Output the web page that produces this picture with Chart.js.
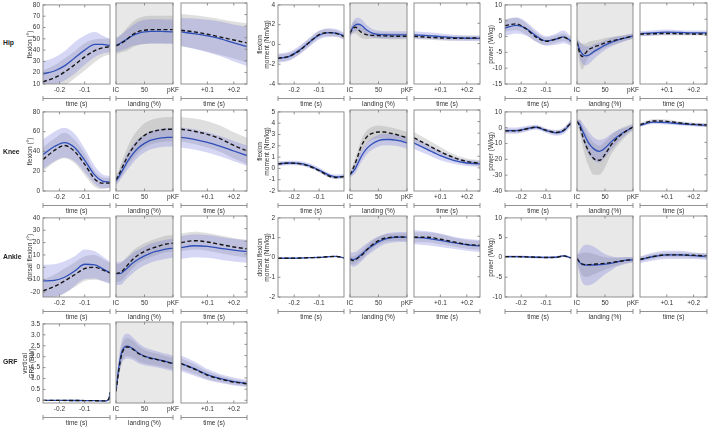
<!DOCTYPE html>
<html><head><meta charset="utf-8">
<script src="https://cdn.jsdelivr.net/npm/chart.js@4.4.0/dist/chart.umd.min.js"></script>
<style>
html,body{margin:0;padding:0;background:#fff;}
#wrap{position:relative;width:711px;height:429px;overflow:hidden;font-family:"Liberation Sans",Arial,sans-serif;}
#wrap canvas{position:absolute;}
.rl{position:absolute;font-weight:bold;font-size:6.8px;color:#222;line-height:10px;}
</style></head><body><div id="wrap"></div>
<script>
// ---- x sampling of each phase ----
const preX  = [-0.265,-0.22,-0.18,-0.14,-0.10,-0.06,-0.03,0];
const landX = [0,5,10,15,20,30,40,50,60,70,80,90,100];
const postX = [0,0.05,0.10,0.15,0.20,0.25];
const grfPreX = [-0.265,-0.2,-0.15,-0.1,-0.06,-0.04,-0.025,-0.015,-0.008,-0.003,0];

// ---- x tick labels ----
const preTicks = [-0.2,-0.1],  preTickLabels  = ['-0.2','-0.1'];
const landTicks = [0,50,100],  landTickLabels = ['IC','50','pKF'];
const postTicks = [0.1,0.2],   postTickLabels = ['+0.1','+0.2'];
const xTitles = ['time (s)','landing (%)','time (s)'];

// ---- y tick labels ----
const hipFlexTicks  = [10,20,30,40,50,60,70,80];
const hipMomTicks   = [-4,-2,0,2,4];
const hipPowTicks   = [-15,-10,-5,0,5,10];
const kneeFlexTicks = [0,20,40,60,80];
const kneeMomTicks  = [-2,-1,0,1,2,3,4,5];
const kneePowTicks  = [-40,-30,-20,-10,0,10];
const ankleFlexTicks= [-20,-10,0,10,20,30,40];
const ankleMomTicks = [-2,-1,0,1,2];
const anklePowTicks = [-10,-5,0,5,10];
const grfTicks      = [0,0.5,1,1.5,2,2.5,3,3.5];

// ---- series: [pre, landing, post] ; blue = solid group, black = dashed group ----
const hipFlexBlue    = [[19,21.5,26,33,40,45,45,44],[43.5,44.5,46,47.5,49,52,54,55,55.5,55.5,55.5,55.2,55],[55,53.5,51.5,49,45.5,42.5]];
const hipFlexBlueSD  = [[11,12,13,14,13,11,8,6],[6,6.5,7,7.5,8,9,10,10.5,10.5,10.5,10.5,10.5,10.5],[12,13,14,15,16,17]];
const hipFlexBlack   = [[12,15.5,20.5,27,34,39.5,42,43],[43,44,45.5,47,49,53,55.5,56.5,57,57,57,57,57],[56.5,55,53,50.5,48,45.5]];
const hipFlexBlackSD = [[10,11,12,12,12,10,8,7],[7,7.5,8,9,10,11,11.5,12,12,12,12,12,12],[14,14.5,15,15.5,16,17]];

const kneeFlexBlue    = [[37,45,49,44,31,16,10,9],[10,14,19,24,29,37,43,47,50,51.5,52.5,53,53],[53,51,48,44,39.5,35]];
const kneeFlexBlueSD  = [[15,15,15,14,12,9,7,6],[4,5,6,7,8,9,9,9,9,9,9,9,9],[10,10,10,10,10,10]];
const kneeFlexBlack   = [[32,41,46,40,27,12,8,8],[11,16,22,28,34,43,50,55,58,59.5,60.5,61,61],[61,59,56,51.5,45,39.5]];
const kneeFlexBlackSD = [[12,12,13,12,11,8,6,5],[4,5,7,8,9,11,11.5,12,12,12,12,12,12],[12,12.5,13,13,13,13]];

const ankleFlexBlue    = [[-11,-10.5,-8,-3,2.5,2,-1,-4.5],[-5.5,-5.5,-5,-3,-1,3,6,8.5,10.5,12,13,14,14.5],[15,16.5,16,14.5,13,12]];
const ankleFlexBlueSD  = [[13,13,13,12,12,11,10,9],[9,9,9,8.5,8,8,7.5,7.5,7.5,7.5,7.5,7.5,7.5],[9,9,9,9,9,9]];
const ankleFlexBlack   = [[-19,-15.5,-11,-6,-1,0,-2,-4.5],[-5.5,-5,-4,-1.5,1,6,9.5,12,14,15.5,17,18,18.5],[19,20.5,19.5,17.5,15.5,14]];
const ankleFlexBlackSD = [[9,9.5,10,10,10,10,9,8],[7,7,7,7,7,7,6.5,6.5,6.5,6.5,6.5,6.5,6.5],[7,7,7,7,7,7]];

const grfBlue    = [[0,0,-0.005,-0.01,-0.015,-0.02,-0.025,-0.02,0.02,0.12,0.38],[0.4,1.5,2.15,2.38,2.42,2.3,2.1,1.97,1.9,1.84,1.78,1.72,1.65],[1.65,1.42,1.15,0.97,0.84,0.75]];
const grfBlueSD  = [[0.01,0.01,0.01,0.01,0.01,0.015,0.02,0.02,0.03,0.04,0.06],[0.1,0.4,0.5,0.55,0.55,0.5,0.45,0.4,0.38,0.36,0.35,0.35,0.35],[0.35,0.32,0.25,0.2,0.18,0.16]];
const grfBlack   = [[0,0,-0.005,-0.01,-0.015,-0.02,-0.025,-0.02,0.02,0.11,0.36],[0.4,1.35,2.05,2.32,2.38,2.28,2.08,1.96,1.88,1.83,1.77,1.7,1.64],[1.64,1.4,1.12,0.95,0.82,0.74]];
const grfBlackSD = [[0.01,0.01,0.01,0.01,0.01,0.01,0.015,0.015,0.02,0.03,0.04],[0.08,0.3,0.38,0.4,0.4,0.38,0.34,0.3,0.28,0.27,0.26,0.26,0.26],[0.25,0.22,0.18,0.14,0.12,0.1]];

const hipMomBlue    = [[-1.4,-1.2,-0.6,0.2,0.95,1.2,1.15,0.85],[1.0,1.6,1.85,1.9,1.8,1.3,1.0,0.9,0.87,0.85,0.85,0.85,0.85],[0.85,0.78,0.68,0.58,0.52,0.5]];
const hipMomBlueSD  = [[0.45,0.45,0.45,0.45,0.45,0.45,0.4,0.35],[0.4,0.55,0.65,0.65,0.6,0.5,0.4,0.35,0.35,0.35,0.35,0.35,0.35],[0.35,0.32,0.3,0.28,0.27,0.27]];
const hipMomBlack   = [[-1.4,-1.2,-0.65,0.2,1.0,1.2,1.1,0.8],[1.0,1.5,1.6,1.35,1.1,0.85,0.8,0.78,0.75,0.73,0.72,0.72,0.72],[0.72,0.62,0.55,0.52,0.53,0.55]];
const hipMomBlackSD = [[0.35,0.35,0.35,0.35,0.35,0.35,0.3,0.3],[0.35,0.5,0.6,0.6,0.55,0.4,0.3,0.3,0.3,0.3,0.3,0.3,0.3],[0.28,0.26,0.25,0.24,0.24,0.24]];

const hipPowBlue    = [[2.7,3.5,2.5,0.2,-1.4,-0.8,-0.1,-1.4],[-2,-4.5,-5.8,-6.3,-6.2,-5.0,-4.0,-3.0,-2.2,-1.6,-1.1,-0.6,-0.2],[0.5,0.8,1.0,0.9,0.8,0.8]];
const hipPowBlueSD  = [[2.5,2.5,2.2,1.8,1.5,1.8,2.0,1.5],[1,2.5,3,3,2.8,2.3,1.8,1.5,1.3,1.2,1,0.9,0.8],[0.8,0.8,0.8,0.7,0.7,0.7]];
const hipPowBlack   = [[3.5,4.0,2.4,-0.2,-1.5,-0.8,-0.2,-1.5],[-2,-5.5,-6.5,-5.5,-4.5,-3.6,-3.0,-2.3,-1.8,-1.4,-1.0,-0.6,-0.2],[0.4,0.5,0.6,0.5,0.45,0.45]];
const hipPowBlackSD = [[2.0,2.0,1.8,1.5,1.2,1.2,1.2,1.0],[1,3.5,4,3,2.5,2,1.7,1.5,1.3,1.2,1,0.9,0.8],[0.6,0.6,0.6,0.5,0.5,0.5]];

const kneeMomBlue    = [[0.4,0.48,0.45,0.25,-0.15,-0.6,-0.75,-0.7],[-0.6,-0.35,0.0,0.5,1.0,1.7,2.1,2.35,2.45,2.45,2.4,2.3,2.15],[2.15,1.6,1.05,0.65,0.42,0.35]];
const kneeMomBlueSD  = [[0.2,0.2,0.2,0.2,0.2,0.2,0.2,0.2],[0.2,0.3,0.4,0.45,0.5,0.5,0.5,0.5,0.5,0.5,0.5,0.5,0.5],[0.5,0.45,0.4,0.3,0.25,0.25]];
const kneeMomBlack   = [[0.4,0.47,0.42,0.2,-0.2,-0.68,-0.8,-0.72],[-0.6,-0.1,0.5,1.2,1.9,2.7,3.0,3.1,3.1,3.0,2.9,2.75,2.6],[2.6,2.0,1.4,0.9,0.55,0.4]];
const kneeMomBlackSD = [[0.12,0.12,0.12,0.12,0.12,0.12,0.12,0.12],[0.2,0.35,0.45,0.5,0.55,0.55,0.55,0.55,0.5,0.5,0.5,0.5,0.5],[0.5,0.45,0.4,0.3,0.25,0.25]];

const kneePowBlue    = [[-1.8,-1.8,-0.7,0.3,-1.8,-3.2,-2.0,3.0],[3,1,-3,-6.5,-10,-14,-15.5,-13.5,-10,-7,-4.5,-2.5,-0.5],[0.5,2.5,2.2,1.5,1.0,0.5]];
const kneePowBlueSD  = [[2,2,1.8,1.5,1.5,1.8,2,2],[1,3,5,6,7,7,7,6,5,4,3,2,1.5],[1,1.2,1.2,1,1,1]];
const kneePowBlack   = [[-2.0,-2.0,-0.8,0.3,-1.6,-3.0,-1.6,3.2],[3,0,-6,-11,-15,-20,-21,-17.5,-12,-8,-5,-2.5,-0.5],[1.0,3.2,3.0,2.0,1.2,0.8]];
const kneePowBlackSD = [[1.2,1.2,1.2,1.0,1.0,1.2,1.5,1.5],[1,4,6,8,9,10,9,8,6,5,4,3,2],[1,1.2,1.2,1,1,1]];

const ankleMomBlue    = [[-0.04,-0.04,-0.03,-0.01,0.0,0.04,0.05,-0.02],[-0.1,-0.15,-0.12,-0.02,0.1,0.35,0.55,0.72,0.85,0.92,0.95,0.96,0.95],[0.95,0.9,0.8,0.68,0.58,0.52]];
const ankleMomBlueSD  = [[0.03,0.03,0.03,0.03,0.03,0.03,0.03,0.03],[0.3,0.35,0.35,0.35,0.35,0.3,0.3,0.28,0.25,0.25,0.25,0.25,0.25],[0.35,0.35,0.33,0.3,0.3,0.3]];
const ankleMomBlack   = [[-0.04,-0.04,-0.03,-0.01,0.0,0.04,0.05,-0.02],[-0.15,-0.2,-0.15,-0.05,0.05,0.35,0.6,0.78,0.9,0.94,0.96,0.96,0.95],[0.95,0.95,0.85,0.72,0.6,0.55]];
const ankleMomBlackSD = [[0.02,0.02,0.02,0.02,0.02,0.02,0.02,0.02],[0.2,0.2,0.2,0.2,0.2,0.2,0.2,0.18,0.18,0.18,0.18,0.18,0.18],[0.25,0.25,0.25,0.22,0.22,0.22]];

const anklePowBlue    = [[0.2,0.2,0.15,0.05,0,0.05,0.4,-0.1],[-0.5,-1.5,-2,-2.1,-2.1,-2.1,-2,-1.9,-1.7,-1.4,-1.1,-0.9,-0.8],[-0.8,0,0.4,0.4,0.2,0]];
const anklePowBlueSD  = [[0.3,0.3,0.3,0.3,0.3,0.3,0.3,0.3],[1,3,4.5,5,5,4.5,3.5,2.5,1.8,1.2,1,0.8,0.7],[0.8,1,1,1,0.8,0.8]];
const anklePowBlack   = [[0.2,0.2,0.15,0.05,0,0.05,0.4,-0.1],[-0.5,-1.4,-1.9,-2,-2,-1.9,-1.8,-1.7,-1.5,-1.3,-1.1,-0.9,-0.8],[-0.7,0,0.4,0.4,0.3,0.1]];
const anklePowBlackSD = [[0.2,0.2,0.2,0.2,0.2,0.2,0.2,0.2],[1,2,2.8,3,3,2.5,2,1.5,1.2,1,0.8,0.7,0.6],[0.6,0.6,0.6,0.6,0.6,0.6]];

const rowLabels = ['Hip','Knee','Ankle','GRF'];

// ---- layout / style ----
const ROW_TOP = [3,110,216,322], PLOT_H = 81, BOT_H = 25, PAD = 10;
const COL_SUBS = [[[43,110],[116,173],[181,247]],[[278,344],[350,407],[414,480]],[[505,571],[577,633],[640,707]]];
const FAM = "'Liberation Sans', Arial, sans-serif";
const TXT = '#333';
const BLUE = '#2f4fb8', BLUE_BAND = 'rgba(115,115,220,0.29)', GRAY_BAND = 'rgba(135,135,135,0.27)';
const LAND_BG = '#e7e8e7', FRAME = '#858585';

const panels = [
  {r:0,c:0,yr:[10,80],ticks:hipFlexTicks,title:'flexion (°)',axW:17,blue:hipFlexBlue,blueSD:hipFlexBlueSD,black:hipFlexBlack,blackSD:hipFlexBlackSD},
  {r:0,c:1,yr:[-4,4],ticks:hipMomTicks,title:['flexion','moment (Nm/kg)'],axW:22,blue:hipMomBlue,blueSD:hipMomBlueSD,black:hipMomBlack,blackSD:hipMomBlackSD},
  {r:0,c:2,yr:[-15,10],ticks:hipPowTicks,title:'power (W/kg)',axW:18,blue:hipPowBlue,blueSD:hipPowBlueSD,black:hipPowBlack,blackSD:hipPowBlackSD},
  {r:1,c:0,yr:[0,80],ticks:kneeFlexTicks,title:'flexion (°)',axW:17,blue:kneeFlexBlue,blueSD:kneeFlexBlueSD,black:kneeFlexBlack,blackSD:kneeFlexBlackSD},
  {r:1,c:1,yr:[-2,5],ticks:kneeMomTicks,title:['flexion','moment (Nm/kg)'],axW:22,blue:kneeMomBlue,blueSD:kneeMomBlueSD,black:kneeMomBlack,blackSD:kneeMomBlackSD},
  {r:1,c:2,yr:[-40,10],ticks:kneePowTicks,title:'power (W/kg)',axW:18,blue:kneePowBlue,blueSD:kneePowBlueSD,black:kneePowBlack,blackSD:kneePowBlackSD},
  {r:2,c:0,yr:[-24,40],ticks:ankleFlexTicks,title:'dorsal flexion (°)',axW:17,blue:ankleFlexBlue,blueSD:ankleFlexBlueSD,black:ankleFlexBlack,blackSD:ankleFlexBlackSD},
  {r:2,c:1,yr:[-2,2],ticks:ankleMomTicks,title:['dorsal flexion','moment (Nm/kg)'],axW:22,blue:ankleMomBlue,blueSD:ankleMomBlueSD,black:ankleMomBlack,blackSD:ankleMomBlackSD},
  {r:2,c:2,yr:[-10,10],ticks:anklePowTicks,title:'power (W/kg)',axW:18,blue:anklePowBlue,blueSD:anklePowBlueSD,black:anklePowBlack,blackSD:anklePowBlackSD},
  {r:3,c:0,yr:[-0.12,3.5],ticks:grfTicks,title:['vertical','GRF (BW)'],axW:22,preX:grfPreX,blue:grfBlue,blueSD:grfBlueSD,black:grfBlack,blackSD:grfBlackSD}
];

const X_RANGE = [[-0.265,0],[0,100],[0,0.25]];
const X_TICKS = [preTicks,landTicks,postTicks];
const X_LABELS = [preTickLabels,landTickLabels,postTickLabels];

const framePlugin = {
  id:'frame',
  beforeDraw(chart,args,o){
    const a = chart.chartArea, ctx = chart.ctx;
    if(o.bg){ ctx.save(); ctx.fillStyle=o.bg; ctx.fillRect(a.left,a.top,a.right-a.left,a.bottom-a.top); ctx.restore(); }
  },
  afterDraw(chart,args,o){
    const a = chart.chartArea, ctx = chart.ctx;
    ctx.save();
    ctx.strokeStyle = FRAME; ctx.lineWidth = 0.9;
    ctx.strokeRect(a.left,a.top,a.right-a.left,a.bottom-a.top);
    ctx.beginPath();
    const ys = chart.scales.y, xs = chart.scales.x;
    o.yticks.forEach(v=>{
      const py = ys.getPixelForValue(v);
      if(o.first){ ctx.moveTo(a.left,py); ctx.lineTo(a.left+2.5,py); }
      if(o.last){ ctx.moveTo(a.right,py); ctx.lineTo(a.right-2.5,py); }
    });
    o.xticks.forEach(v=>{
      const px = xs.getPixelForValue(v);
      ctx.moveTo(px,a.bottom); ctx.lineTo(px,a.bottom-2.5);
      ctx.moveTo(px,a.top); ctx.lineTo(px,a.top+2.5);
    });
    ctx.stroke();
    const by = a.bottom + 14.5;
    ctx.strokeStyle = '#777'; ctx.lineWidth = 0.8;
    ctx.beginPath();
    ctx.moveTo(a.left,by); ctx.lineTo(a.right,by);
    ctx.moveTo(a.left,by-2.5); ctx.lineTo(a.left,by+2.5);
    ctx.moveTo(a.right,by-2.5); ctx.lineTo(a.right,by+2.5);
    ctx.stroke();
    ctx.restore();
  }
};

const wrap = document.getElementById('wrap');

function makeSub(p,s){
  const [x0,x1] = COL_SUBS[p.c][s];
  const top = ROW_TOP[p.r];
  const first = s===0, last = s===2;
  const axW = first ? p.axW : 0;
  const padL = first ? 0 : PAD, padT = 5;
  const cw = axW + padL + (x1-x0) + PAD;
  const ch = padT + PLOT_H + BOT_H;
  const cv = document.createElement('canvas');
  cv.width = cw; cv.height = ch;
  cv.style.left = (x0-axW-padL)+'px'; cv.style.top = (top-padT)+'px';
  cv.style.width = cw+'px'; cv.style.height = ch+'px';
  wrap.appendChild(cv);
  const xs = s===0 ? (p.preX||preX) : (s===1 ? landX : postX);
  const pts = arr => arr.map((v,i)=>({x:xs[i],y:v}));
  const band = (m,sd,k) => m.map((v,i)=>({x:xs[i],y:v+k*sd[i]}));
  const base = {pointRadius:0,cubicInterpolationMode:'monotone',fill:false};
  const edge = {borderColor:'rgba(0,0,0,0)',borderWidth:0};
  const datasets = [
    Object.assign({},base,{data:pts(p.black[s]),borderColor:'#151515',borderWidth:1.4,borderDash:[4,2.5]}),
    Object.assign({},base,{data:pts(p.blue[s]),borderColor:BLUE,borderWidth:1.3}),
    Object.assign({},base,edge,{data:band(p.blue[s],p.blueSD[s],-1)}),
    Object.assign({},base,edge,{data:band(p.blue[s],p.blueSD[s],1),fill:'-1',backgroundColor:BLUE_BAND}),
    Object.assign({},base,edge,{data:band(p.black[s],p.blackSD[s],-1)}),
    Object.assign({},base,edge,{data:band(p.black[s],p.blackSD[s],1),fill:'-1',backgroundColor:GRAY_BAND})
  ];
  new Chart(cv,{
    type:'line',
    data:{datasets},
    plugins:[framePlugin],
    options:{
      responsive:false, animation:false, devicePixelRatio:1,
      layout:{padding:{left:padL,right:PAD,top:padT,bottom:0}},
      plugins:{legend:{display:false},tooltip:{enabled:false},
        frame:{bg: s===1 ? LAND_BG : null, first, last, yticks:p.ticks, xticks:X_TICKS[s]}},
      scales:{
        x:{type:'linear',min:X_RANGE[s][0],max:X_RANGE[s][1],
           afterBuildTicks:sc=>{sc.ticks = X_TICKS[s].map(v=>({value:v}));},
           afterFit:sc=>{sc.height = BOT_H;},
           grid:{display:false,drawTicks:false}, border:{display:false},
           ticks:{padding:2.5,maxRotation:0,autoSkip:false,color:TXT,font:{size:6.5,family:FAM},
                  callback:(v,i)=>X_LABELS[s][i]},
           title:{display:true,text:xTitles[s],color:TXT,font:{size:6.5,family:FAM},padding:{top:0,bottom:1}}
        },
        y:{type:'linear',min:p.yr[0],max:p.yr[1],display:first,
           afterBuildTicks:sc=>{sc.ticks = p.ticks.map(v=>({value:v}));},
           afterFit:sc=>{if(first) sc.width = axW;},
           grid:{display:false,drawTicks:false}, border:{display:false},
           ticks:{padding:3,color:TXT,font:{size:6.5,family:FAM}},
           title:{display:true,text:p.title,color:TXT,font:{size:6.5,family:FAM},padding:{top:0,bottom:0}}
        }
      }
    }
  });
}

panels.forEach(p=>{ for(let s=0;s<3;s++) makeSub(p,s); });

const rowLabelY = [43,152,257,362];
rowLabels.forEach((t,i)=>{
  const d = document.createElement('div');
  d.className='rl'; d.textContent=t;
  d.style.left='3px'; d.style.top=(rowLabelY[i]-5)+'px';
  wrap.appendChild(d);
});
</script></body></html>
